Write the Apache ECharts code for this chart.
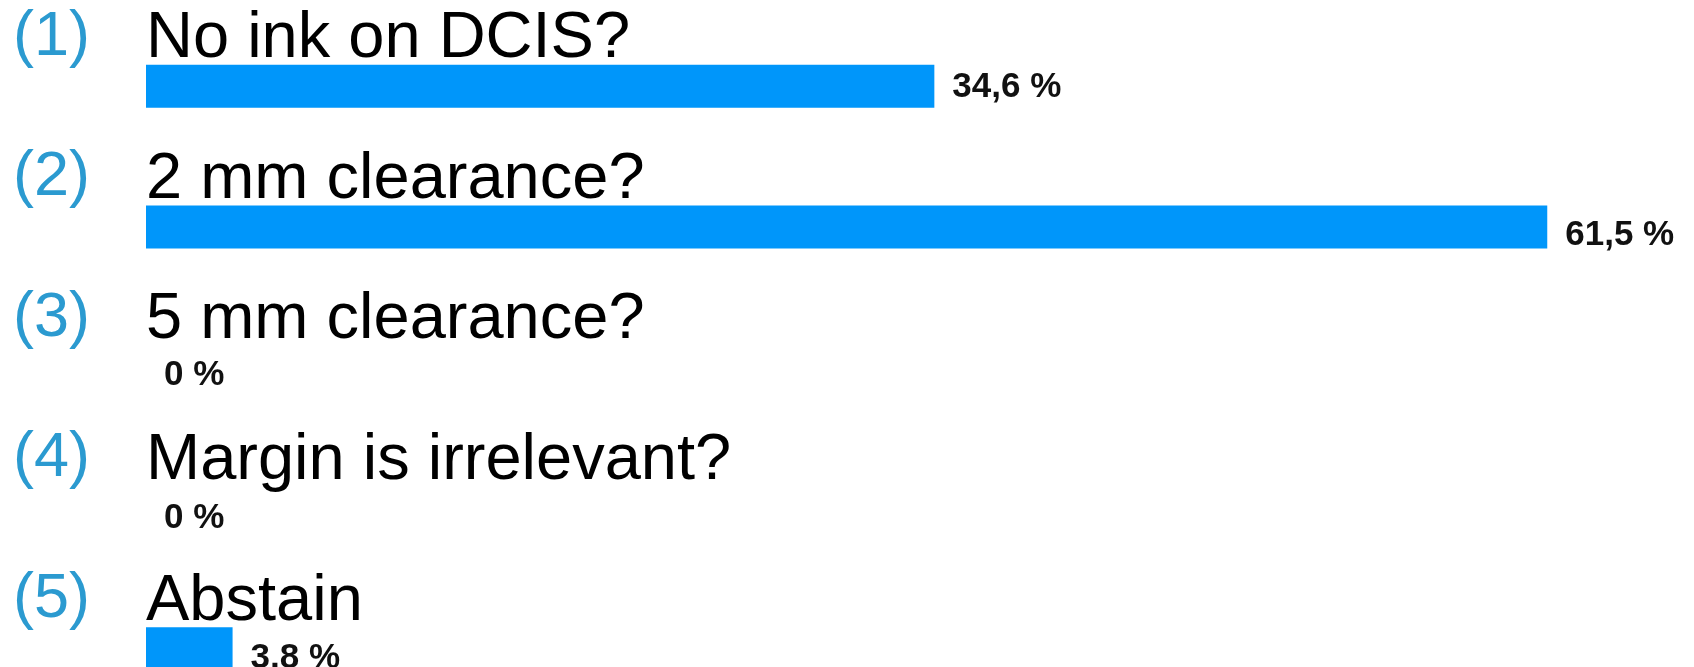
<!DOCTYPE html>
<html>
<head>
<meta charset="utf-8">
<title>Poll results</title>
<script src="https://cdn.jsdelivr.net/npm/echarts@6/dist/echarts.min.js"></script>
<style>
  html, body { margin: 0; padding: 0; background: #ffffff; }
  #chart { width: 1694px; height: 667px; }
</style>
</head>
<body>
<div id="chart"></div>
<script>
// Answer options, in the order they were offered
const optionNumbers = ['(1)', '(2)', '(3)', '(4)', '(5)'];
const questions = ['No ink on DCIS?', '2 mm clearance?', '5 mm clearance?', 'Margin is irrelevant?', 'Abstain'];
// Share of votes per option, in percent
const votes = [34.6, 61.5, 0, 0, 3.8];

// Small vertical nudges for the percentage labels
const labelNudge = [1, 8, 8, 10, 10];

const FONT = "'Liberation Sans', Arial, Helvetica, sans-serif";

function formatPercent(v) {
  return (v === 0 ? '0' : String(v).replace('.', ',')) + ' %';
}

const chart = echarts.init(document.getElementById('chart'), null, { renderer: 'canvas' });

chart.setOption({
  backgroundColor: '#ffffff',
  animation: false,
  // the last row runs past the bottom edge, so the grid extends below the canvas
  grid: {
    left: 146, right: 67, top: 16, bottom: -52,
    containLabel: false,
    outerBoundsMode: 'none'
  },
  xAxis: {
    type: 'value',
    min: 0,
    max: 65,
    show: false
  },
  yAxis: {
    type: 'category',
    inverse: true,
    data: questions,
    axisLine: { show: false },
    axisTick: { show: false },
    splitLine: { show: false },
    axisLabel: {
      interval: 0,
      align: 'left',
      verticalAlign: 'bottom',
      margin: 133,
      padding: [0, 0, 16, 0],
      formatter: function (value, idx) {
        return '{n|' + optionNumbers[idx] + '}{q|' + value + '}';
      },
      rich: {
        n: { fontFamily: FONT, fontSize: 63, color: '#2b9ad0', width: 133, lineHeight: 62, padding: [0, 0, 4, 0] },
        q: { fontFamily: FONT, fontSize: 65, color: '#000000', lineHeight: 62 }
      }
    }
  },
  series: [{
    type: 'bar',
    barWidth: 43,
    data: votes.map(function (v, i) {
      return { value: v, label: { offset: [0, labelNudge[i]] } };
    }),
    itemStyle: { color: '#0096fa' },
    label: {
      show: true,
      position: 'right',
      distance: 18,
      fontFamily: FONT,
      fontSize: 35,
      fontWeight: 'bold',
      color: '#111111',
      formatter: function (p) { return formatPercent(p.value); }
    }
  }]
});
</script>
</body>
</html>
